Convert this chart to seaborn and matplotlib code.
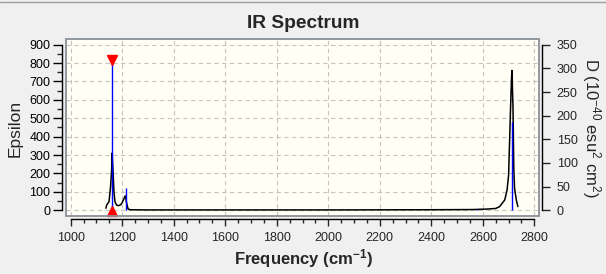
import matplotlib
matplotlib.use("Agg")
import matplotlib.pyplot as plt
import seaborn as sns
from matplotlib.ticker import MultipleLocator
from matplotlib.patches import Rectangle
from matplotlib.lines import Line2D

# ---- data ----
curve_freq = [1137, 1140, 1149, 1155, 1159, 1161, 1165, 1168, 1172, 1178, 1186,
              1194, 1200, 1206, 1211, 1213, 1217, 1223, 1232, 1300, 1600, 2000,
              2400, 2560, 2620, 2650, 2665, 2685, 2694, 2700, 2707, 2711, 2713,
              2717, 2720, 2723, 2730, 2736]
curve_eps = [11, 29, 47, 128, 219, 311, 200, 101, 47, 29, 25,
             30, 42, 60, 77, 77, 40, 7, 3, 2, 2, 2,
             3, 4, 7, 10, 20, 56, 110, 191, 527, 707, 760,
             562, 236, 121, 56, 20]

stick_freq = [1161, 1213, 2577, 2713]
stick_D = [317, 47, 2, 187]

selected_freq = 1161
selected_D = 317

x_ticks = [1000, 1200, 1400, 1600, 1800, 2000, 2200, 2400, 2600, 2800]
eps_ticks = [0, 100, 200, 300, 400, 500, 600, 700, 800, 900]
d_ticks = [0, 50, 100, 150, 200, 250, 300, 350]

# ---- style ----
sns.set_style("white")
plt.rcParams["font.family"] = ["Liberation Sans", "DejaVu Sans"]
plt.rcParams["mathtext.fontset"] = "custom"
plt.rcParams["mathtext.rm"] = "Liberation Sans"
plt.rcParams["mathtext.it"] = "Liberation Sans:italic"
plt.rcParams["mathtext.bf"] = "Liberation Sans:bold"

W, H = 606, 274
fig = plt.figure(figsize=(W / 100, H / 100), dpi=100, facecolor="#F0F0F0")
ax = fig.add_axes([66 / W, 1 - 216 / H, (539 - 66) / W, (216 - 38.7) / H])
ax.set_facecolor("#FFFFF5")
ax.set_xlim(982, 2818)
ax.set_ylim(-31, 932.6)
ax2 = ax.twinx()
ax2.set_ylim(-31 * 350 / 900, 932.6 * 350 / 900)

# grid
ax.xaxis.set_major_locator(MultipleLocator(200))
ax.xaxis.set_minor_locator(MultipleLocator(50))
ax.yaxis.set_major_locator(MultipleLocator(100))
ax.yaxis.set_minor_locator(MultipleLocator(50))
ax2.yaxis.set_major_locator(MultipleLocator(50))
ax.grid(True, which="major", linestyle=(0, (4, 3)), color="#C4C4C4", linewidth=0.8)
ax2.grid(False)

# spines
for s in ["top", "right"]:
    ax.spines[s].set_visible(False)
for s in ["top", "left", "bottom"]:
    ax2.spines[s].set_visible(False)
ax.spines["left"].set_position(("outward", 2.7))
ax.spines["left"].set_bounds(0, 900)
ax.spines["bottom"].set_position(("outward", 2.5))
ax.spines["bottom"].set_bounds(1000, 2800)
ax2.spines["right"].set_position(("outward", 2.5))
ax2.spines["right"].set_bounds(0, 350)
for sp in [ax.spines["left"], ax.spines["bottom"], ax2.spines["right"]]:
    sp.set_color("black")
    sp.set_linewidth(1.0)

ax.set_xticks(x_ticks)
ax.set_yticks(eps_ticks)
ax2.set_yticks(d_ticks)
ax.tick_params(axis="y", which="major", length=6.5, width=1, direction="out",
               labelsize=9, pad=2, left=True, colors="black")
ax.tick_params(axis="y", which="minor", length=3.6, width=1, direction="out", left=True)
ax.tick_params(axis="x", which="major", length=5.3, width=1, direction="out",
               labelsize=9, pad=3.5, bottom=True)
ax.tick_params(axis="x", which="minor", length=2.9, width=1, direction="out", bottom=True)
ax2.tick_params(axis="y", which="major", length=5.8, width=1, direction="out",
                labelsize=9, pad=4.5, right=True)
ax2.tick_params(axis="y", which="minor", right=False)

# frame
ax2.add_patch(Rectangle((0, 0), 1, 1, transform=ax.transAxes, fill=False,
                        edgecolor="#8A9099", linewidth=1.3, clip_on=False, zorder=10))

# spectrum curve
sns.lineplot(x=curve_freq, y=curve_eps, ax=ax, color="black", linewidth=1.1, zorder=3)
ax.set_xlabel("")
ax.set_ylabel("")

# sticks
ax2.vlines(stick_freq, 0, stick_D, colors="#0000FF", linewidth=1.0, zorder=4)
ax2.plot([selected_freq], [selected_D], marker="v", color="red", markersize=7,
         linestyle="none", zorder=5, clip_on=False)
ax2.plot([selected_freq], [-1.5], marker="^", color="red", markersize=7,
         linestyle="none", zorder=5, clip_on=False)

# texts
fig.text(0.5, 1 - 27.8 / H, "IR Spectrum", ha="center", va="baseline",
         fontsize=13.8, fontweight="bold")
fig.text(303 / W, 1 - 259 / H, r"Frequency (cm$^{\mathbf{-1}}$)", ha="center",
         va="center", fontsize=12, fontweight="bold")
fig.text(15 / W, 1 - 128 / H, "Epsilon", rotation=90, ha="center", va="center",
         fontsize=12.5)
fig.text(591 / W, 1 - 128 / H, r"D (10$^{-40}$ esu$^{2}$ cm$^{2}$)", rotation=270,
         ha="center", va="center", fontsize=12)

# window border at top
fig.add_artist(Line2D([0, 1], [1 - 1.5 / H] * 2, transform=fig.transFigure,
                      color="#A0A0A0", linewidth=1))

fig.savefig("out.png", dpi=100, facecolor=fig.get_facecolor())
